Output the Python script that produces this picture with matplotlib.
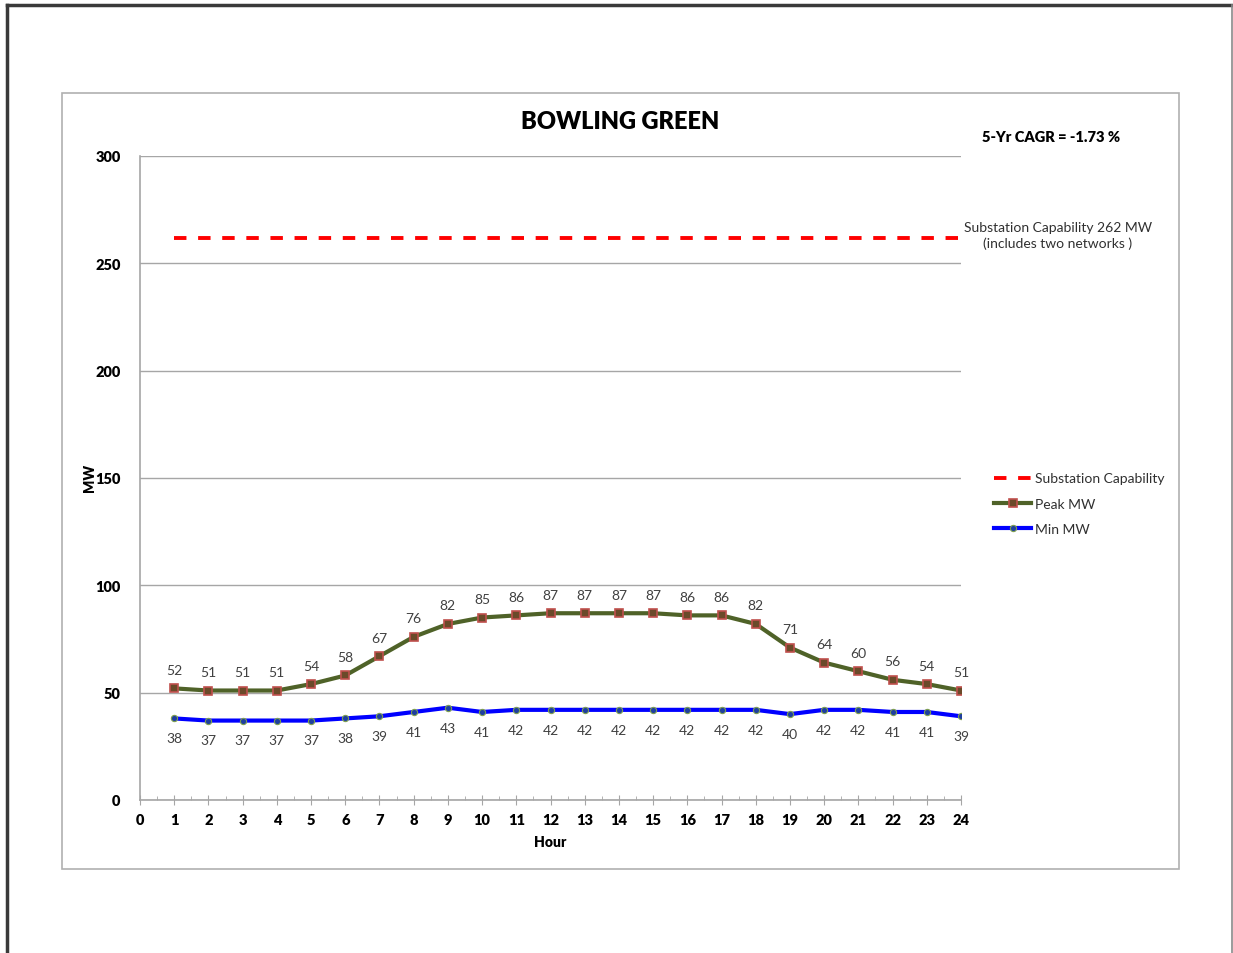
import matplotlib
matplotlib.use("Agg")
import matplotlib.pyplot as plt
from matplotlib.lines import Line2D
from matplotlib.patches import Rectangle
from matplotlib.ticker import MultipleLocator

plt.rcParams['font.family'] = ['Lato', 'DejaVu Sans']

hours = list(range(1, 25))
peak_mw = [52, 51, 51, 51, 54, 58, 67, 76, 82, 85, 86, 87, 87, 87, 87, 86, 86, 82, 71, 64, 60, 56, 54, 51]
min_mw = [38, 37, 37, 37, 37, 38, 39, 41, 43, 41, 42, 42, 42, 42, 42, 42, 42, 42, 40, 42, 42, 41, 41, 39]
capability = 262
title = "BOWLING GREEN"
cagr_text = "5-Yr CAGR = -1.73 %"
cap_text = "Substation Capability 262 MW\n(includes two networks )"

W, H = 1233, 954
fig = plt.figure(figsize=(W / 100, H / 100), dpi=100)

def fx(px):
    return px / W

def fy(py):
    return 1 - py / H

# page borders
fig.add_artist(Line2D([fx(7), fx(1233)], [fy(6), fy(6)], color='#3a3a3a', lw=2.5, transform=fig.transFigure))
fig.add_artist(Line2D([fx(7), fx(7)], [fy(6), fy(954)], color='#3a3a3a', lw=2.5, transform=fig.transFigure))
fig.add_artist(Line2D([fx(1232), fx(1232)], [fy(6), fy(954)], color='#8a8a8a', lw=1.2, transform=fig.transFigure))
# chart frame
fig.add_artist(Rectangle((fx(62), fy(870)), fx(1179) - fx(62), fy(94) - fy(870), fill=False,
                         edgecolor='#b0b0b0', lw=1.2, transform=fig.transFigure))

ax = fig.add_axes([fx(140), fy(801), fx(961) - fx(140), fy(157) - fy(801)])
ax.set_xlim(0, 24)
ax.set_ylim(0, 300)

ax.yaxis.set_major_locator(MultipleLocator(50))
ax.xaxis.set_major_locator(MultipleLocator(1))
ax.xaxis.set_minor_locator(MultipleLocator(0.5))
ax.grid(axis='y', color='#a6a6a6', lw=1.0)
ax.set_axisbelow(True)
for s in ['top', 'right']:
    ax.spines[s].set_visible(False)
for s in ['left', 'bottom']:
    ax.spines[s].set_color('#a6a6a6')
    ax.spines[s].set_linewidth(1.2)
ax.tick_params(axis='y', length=0, pad=14, labelsize=10.5)
ax.tick_params(axis='x', which='major', direction='inout', length=7, color='#a6a6a6', labelsize=10.5, pad=6)
ax.tick_params(axis='x', which='minor', direction='in', length=3, color='#a6a6a6')
for lab in ax.get_xticklabels() + ax.get_yticklabels():
    lab.set_fontweight('heavy')

ax.plot([1, 24], [capability, capability], color='#ff0000', lw=2.8, dashes=(3.2, 3.0),
        label='Substation Capability')
ax.plot(hours, peak_mw, color='#4F6228', lw=3, marker='s', markersize=5.5,
        markerfacecolor='#6b4a2a', markeredgecolor='#c0504d', markeredgewidth=1.2, label='Peak MW')
ax.plot(hours, min_mw, color='#0000ff', lw=3, marker='o', markersize=4.5,
        markerfacecolor='#1f3f9f', markeredgecolor='#7fa04f', markeredgewidth=0.8, label='Min MW')

for h, v in zip(hours, peak_mw):
    ax.annotate(str(v), (h, v), xytext=(0, 9), textcoords='offset points', ha='center', va='bottom',
                fontsize=10, color='#404040')
for h, v in zip(hours, min_mw):
    ax.annotate(str(v), (h, v), xytext=(0, -10), textcoords='offset points', ha='center', va='top',
                fontsize=10, color='#404040')

fig.text(fx(90), fy(478), 'MW', rotation=90, ha='center', va='center', fontweight='heavy', fontsize=10)
fig.text(fx(550), fy(843), 'Hour', ha='center', va='center', fontweight='heavy', fontsize=10)

fig.text(fx(620), fy(122), title, ha='center', va='center', fontsize=17, fontweight='heavy')
fig.text(fx(1051), fy(137), cagr_text, ha='center', va='center', fontsize=10.5, fontweight='heavy')
fig.text(fx(1058), fy(236), cap_text, ha='center', va='center', fontsize=10, color='#303030',
         linespacing=1.25)

leg = fig.legend(loc='upper left', bbox_to_anchor=(fx(982), fy(461)), frameon=False, fontsize=10,
                 handlelength=2.6, handletextpad=0.3, labelspacing=0.95)
for t in leg.get_texts():
    t.set_color('#303030')

fig.savefig('out.png', dpi=100, facecolor='white')
